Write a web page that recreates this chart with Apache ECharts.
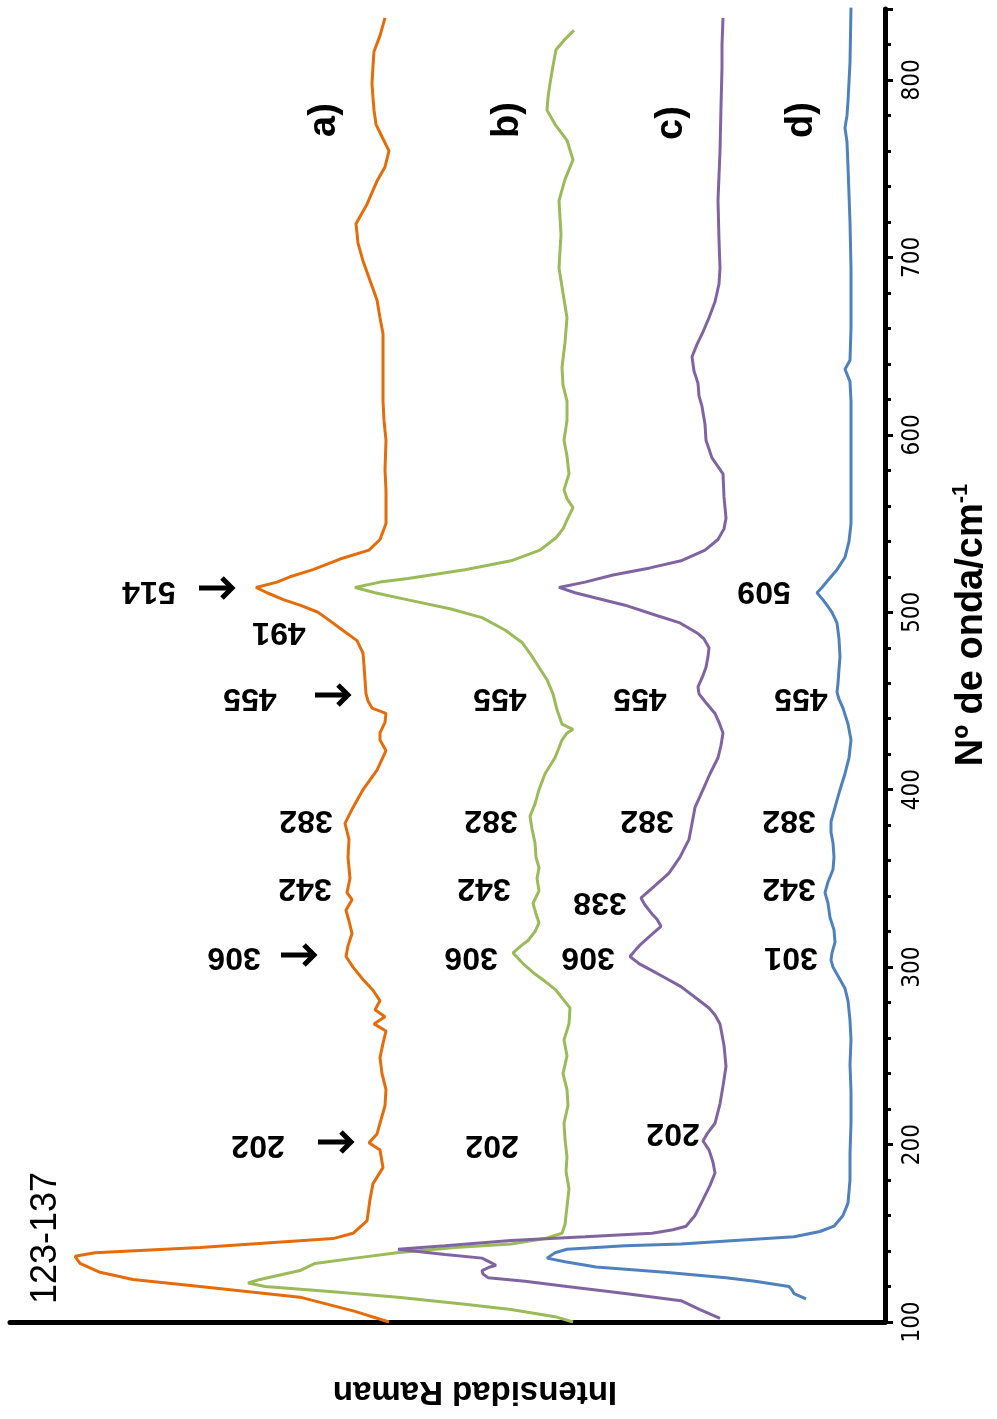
<!DOCTYPE html>
<html><head><meta charset="utf-8">
<script src="https://cdn.jsdelivr.net/npm/echarts@6/dist/echarts.min.js"></script>
<style>html,body{margin:0;padding:0;background:#fff}#c{width:997px;height:1419px}</style>
</head><body><div id="c"></div>
<script>
// Raman spectra: [wavenumber cm-1, intensity (a.u., offset stacked)]
const seriesNames = ['a)', 'b)', 'c)', 'd)'];
const spectrumA = [[100,496],[106,530],[114,585],[120,685],[124,752],[128,785],[133,805],[137,810],[139,790],[142,685],[147,552],[150,532],[157,518],[169,515],[178,512],[187,502],[197,505],[201,516],[206,508],[212,505],[222,500],[231,499],[240,503],[249,505],[257,502],[264,499],[268,511],[272,500],[276,510],[281,505],[287,512],[293,522],[300,532],[306,539],[312,537],[319,533],[326,536],[332,539],[338,533],[342,538],[350,535],[362,537],[372,536],[381,540],[390,532],[400,522],[411,508],[422,499],[428,505],[432,505],[438,500],[443,499],[446,513],[450,517],[454,519],[462,520],[470,521],[477,522],[484,528],[491,545],[496,557],[500,567],[504,585],[507,601],[511,618],[514,629],[517,608],[520,595],[524,572],[530,545],[535,516],[541,505],[550,499],[569,499],[580,500],[597,499],[608,501],[619,502],[638,502],[657,502],[666,505],[676,508],[687,515],[698,522],[708,527],[719,529],[730,518],[743,508],[751,500],[760,496],[768,503],[775,509],[783,511],[790,512],[798,513],[808,512],[816,511],[825,505],[835,500]];
const spectrumB = [[100,312],[103,330],[107,374],[110,420],[114,487],[117,552],[120,620],[122,637],[124,625],[129,585],[133,570],[136,530],[139,488],[142,430],[144,374],[147,340],[150,323],[155,320],[165,318],[175,316],[185,319],[193,318],[203,320],[212,321],[222,317],[231,318],[240,322],[250,318],[259,321],[268,316],[277,315],[282,322],[287,329],[292,340],[297,352],[302,362],[308,372],[312,364],[315,357],[320,350],[325,346],[330,349],[336,352],[343,346],[350,348],[356,346],[362,349],[370,350],[378,353],[385,355],[392,350],[400,346],[409,340],[418,330],[428,323],[432,318],[434,312],[437,323],[445,328],[454,332],[462,338],[469,346],[476,354],[483,363],[490,380],[497,403],[502,435],[507,477],[511,510],[514,530],[517,505],[519,477],[524,420],[529,374],[535,345],[542,329],[547,322],[552,318],[559,312],[564,318],[569,321],[578,316],[588,318],[597,321],[608,318],[619,318],[628,322],[638,323],[652,320],[666,318],[680,322],[694,326],[713,324],[732,326],[744,320],[755,312],[766,318],[775,330],[783,338],[790,337],[798,335],[808,332],[817,329],[823,320],[828,311]];
const spectrumC = [[102,165],[107,185],[112,204],[116,260],[120,318],[123,360],[125,397],[127,402],[129,403],[131,395],[132,389],[134,396],[136,403],[138,440],[141,487],[143,440],[146,374],[148,300],[150,233],[152,212],[154,199],[160,190],[169,182],[177,175],[184,170],[190,172],[197,176],[202,182],[206,178],[212,170],[223,165],[233,162],[244,159],[256,161],[268,165],[273,170],[277,176],[283,190],[289,204],[294,220],[298,233],[302,246],[306,255],[310,249],[313,244],[318,234],[323,224],[327,228],[330,233],[335,240],[339,244],[346,230],[353,216],[362,205],[372,196],[381,193],[390,190],[400,182],[409,175],[418,167],[425,164],[432,162],[438,166],[443,170],[449,179],[454,186],[458,187],[463,183],[469,179],[475,177],[480,176],[485,181],[488,187],[494,205],[499,233],[504,260],[508,289],[511,310],[514,326],[517,300],[521,272],[525,235],[529,204],[535,180],[541,167],[547,161],[553,159],[565,161],[578,162],[587,173],[597,179],[606,180],[616,183],[622,186],[629,187],[636,191],[644,193],[651,188],[658,182],[666,176],[675,170],[685,166],[694,165],[710,166],[732,167],[746,166],[760,165],[785,164],[807,163],[820,163],[835,162]];
const spectrumD = [[113,79],[116,91],[118,93],[120,96],[123,130],[125,159],[128,220],[131,289],[134,320],[136,338],[137,340],[139,330],[141,318],[143,260],[144,204],[146,150],[148,91],[151,65],[154,51],[160,42],[167,37],[180,35],[195,35],[212,34],[230,34],[245,35],[259,34],[270,35],[281,37],[288,40],[293,45],[300,52],[304,54],[308,53],[314,50],[321,51],[328,55],[336,57],[342,60],[348,57],[355,52],[362,51],[370,52],[376,54],[382,54],[390,50],[400,45],[409,40],[418,36],[428,34],[437,37],[446,42],[451,46],[455,48],[460,47],[468,46],[475,45],[485,46],[494,48],[500,53],[504,58],[507,62],[511,68],[514,63],[518,57],[524,48],[531,40],[540,36],[550,34],[559,34],[580,34],[597,34],[619,34],[630,35],[637,40],[642,35],[660,34],[694,34],[720,35],[751,37],[765,38],[773,40],[780,38],[788,37],[810,35],[841,34]];
const spectra = [spectrumA, spectrumB, spectrumC, spectrumD];
const colors = ['#E46C0A', '#9BBB59', '#8064A2', '#4F81BD'];
const wavenumberTicks = [100, 200, 300, 400, 500, 600, 700, 800];

const chart = echarts.init(document.getElementById('c'), null, {renderer: 'canvas'});

const bold32 = 'bold 32px "Liberation Sans", Arial, sans-serif';
function flipText(t, x, y, font) {
  return {type: 'text', x: x, y: y, rotation: Math.PI, z: 100,
    style: {text: t, font: font || bold32, fill: '#000', textAlign: 'center', textVerticalAlign: 'middle', align: 'center', verticalAlign: 'middle'}};
}
function upText(t, x, y, font) {
  return {type: 'text', x: x, y: y, rotation: Math.PI / 2, z: 100,
    style: {text: t, font: font, fill: '#000', textAlign: 'center', textVerticalAlign: 'middle', align: 'center', verticalAlign: 'middle'}};
}
// arrow pointing right, from x0 to x1 at height y
function arrow(x0, x1, y) {
  return {type: 'group', z: 100, children: [
    {type: 'polyline', z: 100, shape: {points: [[x0, y], [x1 - 3, y]]},
      style: {stroke: '#000', lineWidth: 5, fill: null, lineCap: 'butt'}},
    {type: 'polyline', z: 100, shape: {points: [[x1 - 11, y - 10], [x1 - 1, y], [x1 - 11, y + 10]]},
      style: {stroke: '#000', lineWidth: 5, fill: null, lineJoin: 'miter', lineCap: 'butt'}}
  ]};
}

const graphics = [
  // a)
  flipText('514', 149, 591), arrow(199, 233, 588), flipText('491', 279, 632),
  flipText('455', 250, 698), arrow(315, 349, 695), flipText('382', 306, 820),
  flipText('342', 305, 888), flipText('306', 234, 957), arrow(281, 315, 955),
  flipText('202', 258, 1145), arrow(318, 352, 1142),
  // b)
  flipText('455', 500, 698), flipText('382', 491, 820), flipText('342', 484, 888),
  flipText('306', 471, 957), flipText('202', 492, 1145),
  // c)
  flipText('455', 640, 698), flipText('382', 647, 820), flipText('338', 600, 902),
  flipText('306', 588, 957), flipText('202', 673, 1133),
  // d)
  flipText('509', 764, 591), flipText('455', 801, 698), flipText('382', 789, 820),
  flipText('342', 789, 888), flipText('301', 791, 957),
  // curve labels
  upText('a)', 325, 120, 'bold 38px "Liberation Sans", Arial, sans-serif'),
  upText('b)', 508, 120, 'bold 38px "Liberation Sans", Arial, sans-serif'),
  upText('c)', 672, 123, 'bold 38px "Liberation Sans", Arial, sans-serif'),
  upText('d)', 802, 120, 'bold 38px "Liberation Sans", Arial, sans-serif'),
  upText('123-137', 46, 1238, '36px "Liberation Sans", Arial, sans-serif'),
  flipText('Intensidad Raman', 475, 1391, 'bold 33px "Liberation Sans", Arial, sans-serif'),
  {type: 'text', x: 972, y: 625, rotation: Math.PI / 2, z: 100,
    style: {text: '{n|Nº de onda/cm}{s|-1}', fill: '#000', align: 'center', verticalAlign: 'middle',
      textAlign: 'center', textVerticalAlign: 'middle',
      rich: {n: {fontFamily: '"Liberation Sans", Arial, sans-serif', fontWeight: 'bold', fontSize: 38, lineHeight: 44, fill: '#000'},
             s: {fontFamily: '"Liberation Sans", Arial, sans-serif', fontWeight: 'bold', fontSize: 22, lineHeight: 44, verticalAlign: 'top', padding: [0, 0, 22, 0], fill: '#000'}}}}
];

chart.setOption({
  animation: false,
  backgroundColor: '#fff',
  grid: {left: 10, right: 112, top: 9, bottom: 97, containLabel: false, outerBoundsMode: 'none'},
  xAxis: {type: 'value', min: 0, max: 875, inverse: true,
    axisLine: {show: true, onZero: false, lineStyle: {color: '#000', width: 5}},
    axisTick: {show: false}, axisLabel: {show: false}, splitLine: {show: false}},
  yAxis: {type: 'value', position: 'right', min: 100, max: 840, interval: 100,
    axisLine: {show: true, onZero: false, lineStyle: {color: '#000', width: 5}},
    axisTick: {show: true, inside: false, length: 8, lineStyle: {color: '#000', width: 3}},
    minorTick: {show: true, splitNumber: 5, length: 6, lineStyle: {color: '#000', width: 3}},
    splitLine: {show: false},
    axisLabel: {rotate: 90, margin: 16, color: '#000', fontSize: 24,
      fontFamily: '"Liberation Sans Narrow", "DejaVu Sans Condensed", Arial, sans-serif',
      formatter: function (v) { return wavenumberTicks.indexOf(v) >= 0 ? String(v) : ''; }}},
  series: spectra.map(function (d, i) {
    return {name: seriesNames[i], type: 'line', showSymbol: false, symbol: 'none', smooth: false,
      data: d.map(function (p) { return [p[1], p[0]]; }),
      lineStyle: {color: colors[i], width: 3}, itemStyle: {color: colors[i]}, z: 3};
  }),
  graphic: graphics
});
</script></body></html>
